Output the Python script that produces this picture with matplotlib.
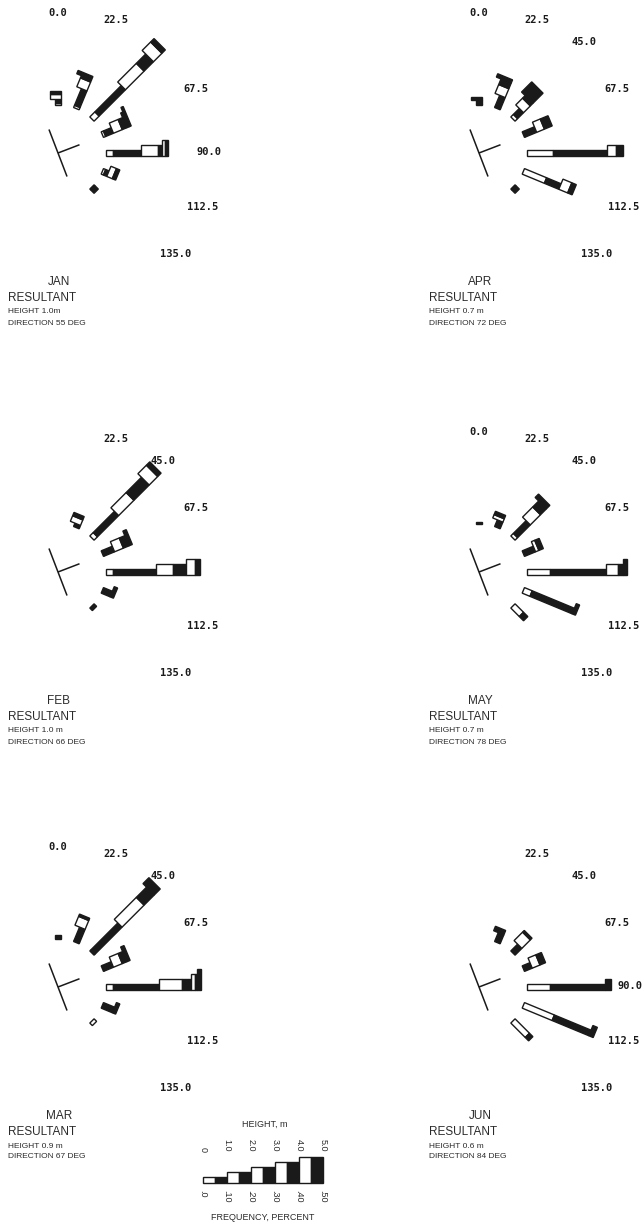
import matplotlib.pyplot as plt
from matplotlib.patches import Polygon
import numpy as np

# wave directions (deg) and their printed labels
directions = [0.0, 22.5, 45.0, 67.5, 90.0, 112.5, 135.0]
dir_labels = ['0.0', '22.5', '45.0', '67.5', '90.0', '112.5', '135.0']

# frequency of each height class (0-0.5, 0.5-1.0, 1.0-1.5 m, ...) per direction
jan_freq = [[0.010, 0.015, 0.020, 0.015],
            [0.010, 0.075, 0.040, 0.010, 0.0, 0.015],
            [0.030, 0.155, 0.110, 0.055, 0.050, 0.020],
            [0.010, 0.035, 0.040, 0.020, 0.0, 0.010, 0.0, 0.010],
            [0.030, 0.115, 0.070, 0.020, 0.010, 0.015],
            [0.010, 0.015, 0.025, 0.015],
            [0.005, 0.020]]
apr_freq = [[0.005, 0.015, 0.0, 0.015],
            [0.005, 0.050, 0.040, 0.025, 0.0, 0.015],
            [0.015, 0.035, 0.040, 0.015, 0.0, 0.060],
            [0.005, 0.050, 0.035, 0.035],
            [0.110, 0.225, 0.035, 0.030],
            [0.100, 0.065, 0.040, 0.020],
            [0.005, 0.020]]
feb_freq = [[],
            [0.005, 0.010, 0.025, 0.015],
            [0.020, 0.125, 0.090, 0.090, 0.050, 0.020],
            [0.005, 0.045, 0.040, 0.025, 0.0, 0.015],
            [0.030, 0.180, 0.070, 0.055, 0.035, 0.020],
            [0.0, 0.040, 0.0, 0.015],
            [0.0, 0.015]]
may_freq = [[0.0, 0.010],
            [0.0, 0.030, 0.015, 0.015],
            [0.015, 0.075, 0.060, 0.035, 0.0, 0.020],
            [0.0, 0.050, 0.015, 0.020],
            [0.095, 0.235, 0.050, 0.020, 0.0, 0.015],
            [0.035, 0.190, 0.0, 0.015],
            [0.050, 0.025]]
mar_freq = [[0.0, 0.015],
            [0.005, 0.060, 0.040, 0.010],
            [0.005, 0.160, 0.130, 0.060, 0.0, 0.035],
            [0.005, 0.040, 0.040, 0.020, 0.0, 0.015],
            [0.030, 0.190, 0.095, 0.040, 0.015, 0.010, 0.0, 0.015],
            [0.0, 0.050, 0.0, 0.015],
            [0.015]]
jun_freq = [[],
            [0.0, 0.040, 0.0, 0.020],
            [0.0, 0.040, 0.050, 0.010],
            [0.0, 0.035, 0.035, 0.025],
            [0.095, 0.230, 0.0, 0.025],
            [0.135, 0.165, 0.0, 0.020],
            [0.085, 0.020]]

months = ['JAN', 'APR', 'FEB', 'MAY', 'MAR', 'JUN']
res_height = ['1.0m', '0.7 m', '1.0 m', '0.7 m', '0.9 m', '0.6 m']
res_dir = [55, 72, 66, 78, 67, 84]
# which direction labels are printed on each rose
shown = [['0.0', '22.5', '67.5', '90.0', '112.5', '135.0'],
         ['0.0', '22.5', '45.0', '67.5', '112.5', '135.0'],
         ['22.5', '45.0', '67.5', '112.5', '135.0'],
         ['0.0', '22.5', '45.0', '67.5', '112.5', '135.0'],
         ['0.0', '22.5', '45.0', '67.5', '112.5', '135.0'],
         ['22.5', '45.0', '67.5', '90.0', '112.5', '135.0']]

height_ticks = ['0', '1.0', '2.0', '3.0', '4.0', '5.0']
freq_ticks = ['.0', '.10', '.20', '.30', '.40', '.50']
legend_freq = [0.05] * 10

W, H = 643, 1225
SCALE = 240.0            # px per frequency unit
R0 = 48 / SCALE          # inner radius of the bars
WIDTHS = [6 / SCALE, 11 / SCALE, 16 / SCALE, 21 / SCALE, 26 / SCALE]
LAB_R = [140, 145, 153, 152, 151, 154, 155]          # label radius, px
LAB_A = [0, 23.5, 43.5, 65, 89.5, 110.5, 130.5]      # label angle, deg
INK = '#1a1a1a'
TXT = '#2b2b2b'
SANS = 'Liberation Sans'

fig = plt.figure(figsize=(W / 100, H / 100), dpi=100)


def fx(x):
    return x / W


def fy(y):
    return 1 - y / H


def draw_bar(ax, theta, segs):
    t = np.radians(theta)
    u = np.array([np.sin(t), np.cos(t)])
    n = np.array([-np.cos(t), np.sin(t)])
    r = R0
    o1 = -WIDTHS[0] / 2
    for k, f in enumerate(segs):
        if f <= 0:
            continue
        o2 = o1 + WIDTHS[k // 2]
        pts = [r * u + o1 * n, (r + f) * u + o1 * n, (r + f) * u + o2 * n, r * u + o2 * n]
        ax.add_patch(Polygon(pts, closed=True, fc='white' if k % 2 == 0 else INK,
                             ec=INK, lw=1.0, joinstyle='miter'))
        r += f


all_freq = [jan_freq, apr_freq, feb_freq, may_freq, mar_freq, jun_freq]
col_x = [58, 479]
row_y = [153, 572, 987]

for i, freq in enumerate(all_freq):
    cx = col_x[i % 2]
    cy = row_y[i // 2]
    ax = fig.add_axes([fx(cx - 57), fy(cy + 160), 221 / W, 320 / H])
    ax.set_xlim(-57 / SCALE, 164 / SCALE)
    ax.set_ylim(-160 / SCALE, 160 / SCALE)
    ax.axis('off')

    for theta, segs in zip(directions, freq):
        draw_bar(ax, theta, segs)

    # shoreline and its normal
    s = np.radians(159)
    ax.plot([-0.105 * np.sin(s), 0.105 * np.sin(s)], [-0.105 * np.cos(s), 0.105 * np.cos(s)],
            color=INK, lw=1.1, solid_capstyle='butt')
    nrm = np.radians(69)
    ax.plot([0, 0.096 * np.sin(nrm)], [0, 0.096 * np.cos(nrm)], color=INK, lw=1.1,
            solid_capstyle='butt')

    for j, lab in enumerate(dir_labels):
        if lab not in shown[i]:
            continue
        a = np.radians(LAB_A[j])
        rl = LAB_R[j] / SCALE
        ax.text(rl * np.sin(a), rl * np.cos(a), lab, ha='center', va='center',
                fontsize=7.5, fontweight='bold', family='DejaVu Sans Mono', color=INK,
                clip_on=False)

    fig.text(fx(cx + 1), fy(cy + 129), months[i], ha='center', va='center',
             fontsize=8.5, family=SANS, color=TXT)
    fig.text(fx(cx - 50), fy(cy + 145), 'RESULTANT', ha='left', va='center',
             fontsize=8.5, family=SANS, color=TXT)
    fig.text(fx(cx - 50), fy(cy + 159), 'HEIGHT ' + res_height[i], ha='left', va='center',
             fontsize=6, family=SANS, color=TXT)
    fig.text(fx(cx - 50), fy(cy + 170), 'DIRECTION %d DEG' % res_dir[i], ha='left',
             va='center', fontsize=6, family=SANS, color=TXT)

# legend: bar widths by height, lengths by frequency
lax = fig.add_axes([fx(183), fy(1225), 170 / W, 125 / H])
lax.set_xlim(-20 / SCALE, 150 / SCALE)
lax.set_ylim(-42 / SCALE, 83 / SCALE)
lax.axis('off')
x0 = 0.0
for k, f in enumerate(legend_freq):
    w = WIDTHS[k // 2]
    lax.add_patch(Polygon([(x0, 0), (x0 + f, 0), (x0 + f, w), (x0, w)], closed=True,
                          fc='white' if k % 2 == 0 else INK, ec=INK, lw=1.0))
    x0 += f
for j, (ht, ft) in enumerate(zip(height_ticks, freq_ticks)):
    xp = 0.1 * j
    lax.text(xp, 0.13, ht, rotation=-90, ha='center', va='bottom', fontsize=6.5,
             family=SANS, color=TXT)
    lax.text(xp, -0.03, ft, rotation=-90, ha='center', va='top', fontsize=6.5,
             family=SANS, color=TXT)
lax.text(0.258, 0.246, 'HEIGHT, m', ha='center', va='center', fontsize=6.5,
         family=SANS, color=TXT)
lax.text(0.25, -0.142, 'FREQUENCY, PERCENT', ha='center', va='center', fontsize=6.5,
         family=SANS, color=TXT)

fig.savefig('out.png', dpi=100)
